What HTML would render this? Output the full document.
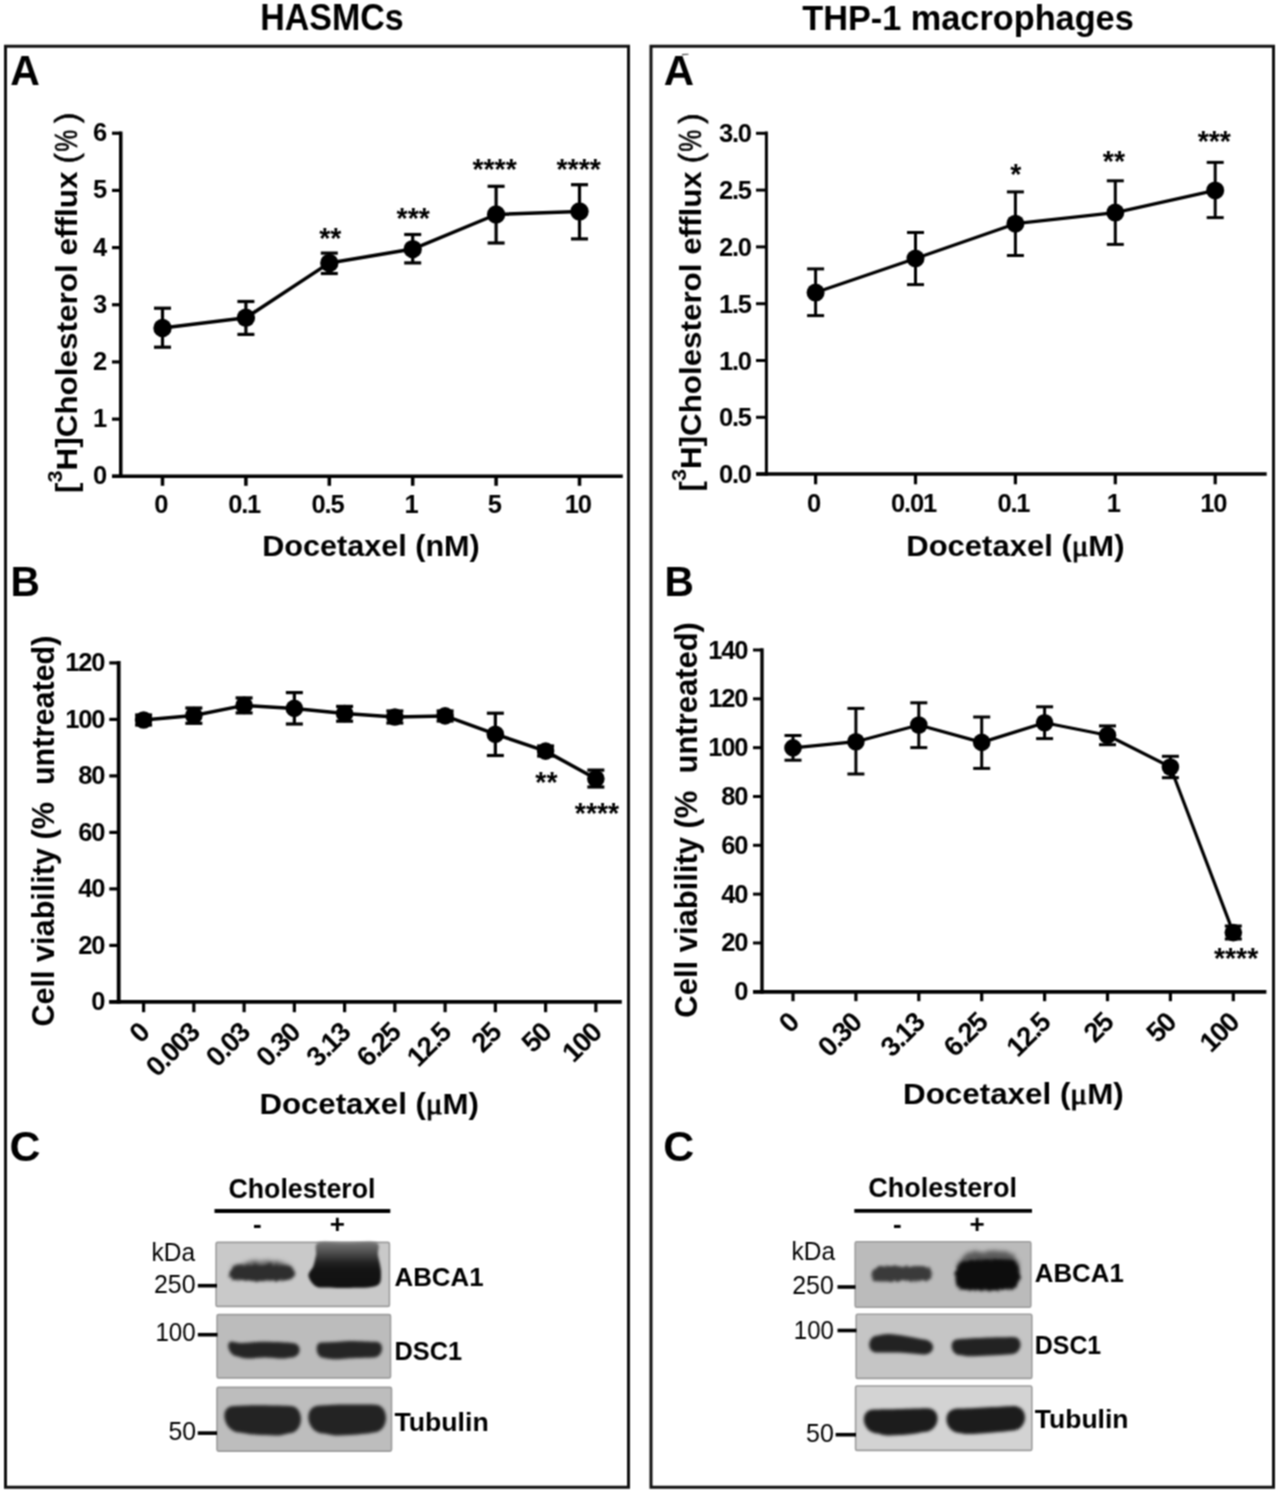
<!DOCTYPE html>
<html><head><meta charset="utf-8"><style>
html,body{margin:0;padding:0;background:#fff;}
svg{display:block;}
#w{width:1280px;height:1493px;overflow:hidden;will-change:transform;}
text{font-family:"Liberation Sans", sans-serif;font-weight:bold;fill:#000;stroke:none;}
</style></head><body><div id="w">
<svg width="1280" height="1493" viewBox="0 0 1280 1493">
<defs><filter id="bl1" color-interpolation-filters="sRGB" x="-20%" y="-50%" width="140%" height="200%"><feGaussianBlur stdDeviation="1.1"/></filter>
<filter id="bl3" color-interpolation-filters="sRGB" x="-20%" y="-50%" width="140%" height="200%"><feGaussianBlur stdDeviation="1.4"/></filter>
<filter id="bl2" color-interpolation-filters="sRGB" x="-20%" y="-50%" width="140%" height="200%"><feGaussianBlur stdDeviation="2.2"/></filter>
<filter id="fz" color-interpolation-filters="sRGB" x="-20%" y="-60%" width="140%" height="220%"><feTurbulence type="fractalNoise" baseFrequency="0.35" numOctaves="2" seed="3" result="n"/><feDisplacementMap in="SourceGraphic" in2="n" scale="4" xChannelSelector="R" yChannelSelector="G" result="d"/><feGaussianBlur in="d" stdDeviation="1.5"/></filter>
<filter id="fz2" color-interpolation-filters="sRGB" x="-20%" y="-60%" width="140%" height="220%"><feTurbulence type="fractalNoise" baseFrequency="0.3" numOctaves="2" seed="7" result="n"/><feDisplacementMap in="SourceGraphic" in2="n" scale="6" xChannelSelector="R" yChannelSelector="G" result="d"/><feGaussianBlur in="d" stdDeviation="2.0"/></filter>
<filter id="soft" color-interpolation-filters="sRGB" x="0" y="0" width="1280" height="1493" filterUnits="userSpaceOnUse"><feConvolveMatrix order="3" kernelMatrix="1 2 1 2 4 2 1 2 1" divisor="16" edgeMode="duplicate"/></filter>
<linearGradient id="smearL" gradientUnits="userSpaceOnUse" x1="0" y1="1242" x2="0" y2="1288"><stop offset="0" stop-color="#787878"/><stop offset="0.22" stop-color="#505050"/><stop offset="0.45" stop-color="#222"/><stop offset="0.6" stop-color="#141414"/><stop offset="1" stop-color="#111"/></linearGradient></defs>
<g filter="url(#soft)">
<rect width="1280" height="1493" fill="#fff"/>
<g stroke="#000" fill="none">
<text x="332.00" y="29.50" font-size="36.5" text-anchor="middle" textLength="143.5" lengthAdjust="spacingAndGlyphs" >HASMCs</text>
<text x="968.00" y="29.50" font-size="35.5" text-anchor="middle" textLength="331.5" lengthAdjust="spacingAndGlyphs" >THP-1 macrophages</text>
<rect x="5.5" y="46.25" width="623" height="1441" fill="none" stroke="#111" stroke-width="3"/>
<rect x="651" y="46.25" width="622.5" height="1441" fill="none" stroke="#111" stroke-width="3"/>
<text x="10.30" y="85.00" font-size="43" text-anchor="start" textLength="29.6" lengthAdjust="spacingAndGlyphs" >A</text>
<text x="663.80" y="84.70" font-size="43" text-anchor="start" textLength="30.3" lengthAdjust="spacingAndGlyphs" >A</text>
<text x="10.60" y="596.20" font-size="43" text-anchor="start" textLength="29.4" lengthAdjust="spacingAndGlyphs" >B</text>
<text x="664.40" y="596.00" font-size="43" text-anchor="start" textLength="29.4" lengthAdjust="spacingAndGlyphs" >B</text>
<text x="9.60" y="1161.20" font-size="43" text-anchor="start" textLength="31.0" lengthAdjust="spacingAndGlyphs" >C</text>
<text x="663.30" y="1161.40" font-size="43" text-anchor="start" textLength="31.0" lengthAdjust="spacingAndGlyphs" >C</text>
<line x1="120.75" y1="131.50" x2="120.75" y2="478.05" stroke-width="3.5"/>
<line x1="112.00" y1="476.30" x2="622.80" y2="476.30" stroke-width="3.5"/>
<line x1="112.00" y1="476.30" x2="120.75" y2="476.30" stroke-width="3.2"/>
<text x="106.00" y="484.30" font-size="25.5" text-anchor="end" style="letter-spacing:-1.2px" >0</text>
<line x1="112.00" y1="419.12" x2="120.75" y2="419.12" stroke-width="3.2"/>
<text x="106.00" y="427.12" font-size="25.5" text-anchor="end" style="letter-spacing:-1.2px" >1</text>
<line x1="112.00" y1="361.94" x2="120.75" y2="361.94" stroke-width="3.2"/>
<text x="106.00" y="369.94" font-size="25.5" text-anchor="end" style="letter-spacing:-1.2px" >2</text>
<line x1="112.00" y1="304.76" x2="120.75" y2="304.76" stroke-width="3.2"/>
<text x="106.00" y="312.76" font-size="25.5" text-anchor="end" style="letter-spacing:-1.2px" >3</text>
<line x1="112.00" y1="247.58" x2="120.75" y2="247.58" stroke-width="3.2"/>
<text x="106.00" y="255.58" font-size="25.5" text-anchor="end" style="letter-spacing:-1.2px" >4</text>
<line x1="112.00" y1="190.40" x2="120.75" y2="190.40" stroke-width="3.2"/>
<text x="106.00" y="198.40" font-size="25.5" text-anchor="end" style="letter-spacing:-1.2px" >5</text>
<line x1="112.00" y1="133.22" x2="120.75" y2="133.22" stroke-width="3.2"/>
<text x="106.00" y="141.22" font-size="25.5" text-anchor="end" style="letter-spacing:-1.2px" >6</text>
<line x1="162.50" y1="476.30" x2="162.50" y2="485.80" stroke-width="3.5"/>
<line x1="245.90" y1="476.30" x2="245.90" y2="485.80" stroke-width="3.5"/>
<line x1="329.30" y1="476.30" x2="329.30" y2="485.80" stroke-width="3.5"/>
<line x1="412.70" y1="476.30" x2="412.70" y2="485.80" stroke-width="3.5"/>
<line x1="496.10" y1="476.30" x2="496.10" y2="485.80" stroke-width="3.5"/>
<line x1="579.50" y1="476.30" x2="579.50" y2="485.80" stroke-width="3.5"/>
<text x="160.70" y="513.00" font-size="25.5" text-anchor="middle" style="letter-spacing:-1.2px" >0</text>
<text x="244.10" y="513.00" font-size="25.5" text-anchor="middle" style="letter-spacing:-1.2px" >0.1</text>
<text x="327.50" y="513.00" font-size="25.5" text-anchor="middle" style="letter-spacing:-1.2px" >0.5</text>
<text x="410.90" y="513.00" font-size="25.5" text-anchor="middle" style="letter-spacing:-1.2px" >1</text>
<text x="494.30" y="513.00" font-size="25.5" text-anchor="middle" style="letter-spacing:-1.2px" >5</text>
<text x="577.70" y="513.00" font-size="25.5" text-anchor="middle" style="letter-spacing:-1.2px" >10</text>
<text x="371.00" y="555.70" font-size="30" text-anchor="middle" textLength="217.5" lengthAdjust="spacingAndGlyphs" >Docetaxel (nM)</text>
<text transform="translate(77.30,493.00) rotate(-90)" font-size="30" text-anchor="start" textLength="321.5" lengthAdjust="spacingAndGlyphs">[<tspan font-size="20.5" dy="-15">3</tspan><tspan dy="15">H]Cholesterol efflux</tspan></text>
<text transform="translate(77.30,163.50) rotate(-90)" font-size="31" text-anchor="start" style="font-weight:normal;stroke:#000;stroke-width:0.6">(</text>
<text transform="translate(77.30,151.80) rotate(-90)" font-size="32" text-anchor="start" style="font-weight:normal;stroke:#000;stroke-width:0.6" textLength="22" lengthAdjust="spacingAndGlyphs">%</text>
<text transform="translate(77.30,123.10) rotate(-90)" font-size="31" text-anchor="start" style="font-weight:normal;stroke:#000;stroke-width:0.6">)</text>
<polyline points="162.50,327.90 245.90,317.70 329.30,262.90 412.70,249.10 496.10,214.50 579.50,211.50" fill="none" stroke-width="3.5" stroke-linejoin="round"/>
<line x1="162.50" y1="308.20" x2="162.50" y2="347.20" stroke-width="3.2"/>
<line x1="154.00" y1="308.20" x2="171.00" y2="308.20" stroke-width="3.2"/>
<line x1="154.00" y1="347.20" x2="171.00" y2="347.20" stroke-width="3.2"/>
<circle cx="162.50" cy="327.90" r="9.2" fill="#000" stroke="none"/>
<line x1="245.90" y1="301.50" x2="245.90" y2="334.40" stroke-width="3.2"/>
<line x1="237.40" y1="301.50" x2="254.40" y2="301.50" stroke-width="3.2"/>
<line x1="237.40" y1="334.40" x2="254.40" y2="334.40" stroke-width="3.2"/>
<circle cx="245.90" cy="317.70" r="9.2" fill="#000" stroke="none"/>
<line x1="329.30" y1="253.10" x2="329.30" y2="273.50" stroke-width="3.2"/>
<line x1="320.80" y1="253.10" x2="337.80" y2="253.10" stroke-width="3.2"/>
<line x1="320.80" y1="273.50" x2="337.80" y2="273.50" stroke-width="3.2"/>
<circle cx="329.30" cy="262.90" r="9.2" fill="#000" stroke="none"/>
<line x1="412.70" y1="234.50" x2="412.70" y2="262.90" stroke-width="3.2"/>
<line x1="404.20" y1="234.50" x2="421.20" y2="234.50" stroke-width="3.2"/>
<line x1="404.20" y1="262.90" x2="421.20" y2="262.90" stroke-width="3.2"/>
<circle cx="412.70" cy="249.10" r="9.2" fill="#000" stroke="none"/>
<line x1="496.10" y1="186.30" x2="496.10" y2="243.00" stroke-width="3.2"/>
<line x1="487.60" y1="186.30" x2="504.60" y2="186.30" stroke-width="3.2"/>
<line x1="487.60" y1="243.00" x2="504.60" y2="243.00" stroke-width="3.2"/>
<circle cx="496.10" cy="214.50" r="9.2" fill="#000" stroke="none"/>
<line x1="579.50" y1="184.70" x2="579.50" y2="238.90" stroke-width="3.2"/>
<line x1="571.00" y1="184.70" x2="588.00" y2="184.70" stroke-width="3.2"/>
<line x1="571.00" y1="238.90" x2="588.00" y2="238.90" stroke-width="3.2"/>
<circle cx="579.50" cy="211.50" r="9.2" fill="#000" stroke="none"/>
<text transform="translate(330.30,248.00) scale(0.95,1)" font-size="30" text-anchor="middle" >**</text>
<text transform="translate(413.20,228.10) scale(0.95,1)" font-size="30" text-anchor="middle" >***</text>
<text transform="translate(494.60,179.00) scale(0.95,1)" font-size="30" text-anchor="middle" >****</text>
<text transform="translate(578.70,178.50) scale(0.95,1)" font-size="30" text-anchor="middle" >****</text>
<line x1="766.40" y1="131.60" x2="766.40" y2="475.85" stroke-width="3.0"/>
<line x1="756.20" y1="474.10" x2="1266.70" y2="474.10" stroke-width="3.5"/>
<line x1="756.00" y1="474.10" x2="766.40" y2="474.10" stroke-width="3.0"/>
<text x="750.80" y="483.10" font-size="25.5" text-anchor="end" style="letter-spacing:-1.2px" >0.0</text>
<line x1="756.00" y1="417.30" x2="766.40" y2="417.30" stroke-width="3.0"/>
<text x="750.80" y="426.30" font-size="25.5" text-anchor="end" style="letter-spacing:-1.2px" >0.5</text>
<line x1="756.00" y1="360.50" x2="766.40" y2="360.50" stroke-width="3.0"/>
<text x="750.80" y="369.50" font-size="25.5" text-anchor="end" style="letter-spacing:-1.2px" >1.0</text>
<line x1="756.00" y1="303.70" x2="766.40" y2="303.70" stroke-width="3.0"/>
<text x="750.80" y="312.70" font-size="25.5" text-anchor="end" style="letter-spacing:-1.2px" >1.5</text>
<line x1="756.00" y1="246.90" x2="766.40" y2="246.90" stroke-width="3.0"/>
<text x="750.80" y="255.90" font-size="25.5" text-anchor="end" style="letter-spacing:-1.2px" >2.0</text>
<line x1="756.00" y1="190.10" x2="766.40" y2="190.10" stroke-width="3.0"/>
<text x="750.80" y="199.10" font-size="25.5" text-anchor="end" style="letter-spacing:-1.2px" >2.5</text>
<line x1="756.00" y1="133.30" x2="766.40" y2="133.30" stroke-width="3.0"/>
<text x="750.80" y="142.30" font-size="25.5" text-anchor="end" style="letter-spacing:-1.2px" >3.0</text>
<line x1="815.60" y1="474.10" x2="815.60" y2="484.30" stroke-width="3.2"/>
<line x1="915.50" y1="474.10" x2="915.50" y2="484.30" stroke-width="3.2"/>
<line x1="1015.40" y1="474.10" x2="1015.40" y2="484.30" stroke-width="3.2"/>
<line x1="1115.30" y1="474.10" x2="1115.30" y2="484.30" stroke-width="3.2"/>
<line x1="1215.20" y1="474.10" x2="1215.20" y2="484.30" stroke-width="3.2"/>
<text x="813.60" y="511.50" font-size="25.5" text-anchor="middle" style="letter-spacing:-1.2px" >0</text>
<text x="913.50" y="511.50" font-size="25.5" text-anchor="middle" style="letter-spacing:-1.2px" >0.01</text>
<text x="1013.40" y="511.50" font-size="25.5" text-anchor="middle" style="letter-spacing:-1.2px" >0.1</text>
<text x="1113.30" y="511.50" font-size="25.5" text-anchor="middle" style="letter-spacing:-1.2px" >1</text>
<text x="1213.20" y="511.50" font-size="25.5" text-anchor="middle" style="letter-spacing:-1.2px" >10</text>
<text x="1015.40" y="555.70" font-size="30" text-anchor="middle" textLength="218.2" lengthAdjust="spacingAndGlyphs" >Docetaxel (<tspan style="font-family:&quot;Liberation Serif&quot;,serif;font-weight:normal;stroke:#000;stroke-width:0.9">μ</tspan>M)</text>
<text transform="translate(700.90,491.40) rotate(-90)" font-size="30" text-anchor="start" textLength="320.2" lengthAdjust="spacingAndGlyphs">[<tspan font-size="20.5" dy="-15">3</tspan><tspan dy="15">H]Cholesterol efflux</tspan></text>
<text transform="translate(700.90,163.20) rotate(-90)" font-size="31" text-anchor="start" style="font-weight:normal;stroke:#000;stroke-width:0.6">(</text>
<text transform="translate(700.90,151.80) rotate(-90)" font-size="32" text-anchor="start" style="font-weight:normal;stroke:#000;stroke-width:0.6" textLength="22" lengthAdjust="spacingAndGlyphs">%</text>
<text transform="translate(700.90,123.80) rotate(-90)" font-size="31" text-anchor="start" style="font-weight:normal;stroke:#000;stroke-width:0.6">)</text>
<polyline points="815.60,292.60 915.50,258.50 1015.40,223.70 1115.30,212.60 1215.20,190.40" fill="none" stroke-width="3.2" stroke-linejoin="round"/>
<line x1="815.60" y1="268.90" x2="815.60" y2="315.60" stroke-width="3.0"/>
<line x1="807.10" y1="268.90" x2="824.10" y2="268.90" stroke-width="3.0"/>
<line x1="807.10" y1="315.60" x2="824.10" y2="315.60" stroke-width="3.0"/>
<circle cx="815.60" cy="292.60" r="9.0" fill="#000" stroke="none"/>
<line x1="915.50" y1="232.50" x2="915.50" y2="284.60" stroke-width="3.0"/>
<line x1="907.00" y1="232.50" x2="924.00" y2="232.50" stroke-width="3.0"/>
<line x1="907.00" y1="284.60" x2="924.00" y2="284.60" stroke-width="3.0"/>
<circle cx="915.50" cy="258.50" r="9.0" fill="#000" stroke="none"/>
<line x1="1015.40" y1="191.90" x2="1015.40" y2="255.50" stroke-width="3.0"/>
<line x1="1006.90" y1="191.90" x2="1023.90" y2="191.90" stroke-width="3.0"/>
<line x1="1006.90" y1="255.50" x2="1023.90" y2="255.50" stroke-width="3.0"/>
<circle cx="1015.40" cy="223.70" r="9.0" fill="#000" stroke="none"/>
<line x1="1115.30" y1="180.80" x2="1115.30" y2="244.40" stroke-width="3.0"/>
<line x1="1106.80" y1="180.80" x2="1123.80" y2="180.80" stroke-width="3.0"/>
<line x1="1106.80" y1="244.40" x2="1123.80" y2="244.40" stroke-width="3.0"/>
<circle cx="1115.30" cy="212.60" r="9.0" fill="#000" stroke="none"/>
<line x1="1215.20" y1="162.40" x2="1215.20" y2="217.60" stroke-width="3.0"/>
<line x1="1206.70" y1="162.40" x2="1223.70" y2="162.40" stroke-width="3.0"/>
<line x1="1206.70" y1="217.60" x2="1223.70" y2="217.60" stroke-width="3.0"/>
<circle cx="1215.20" cy="190.40" r="9.0" fill="#000" stroke="none"/>
<text transform="translate(1015.90,183.80) scale(0.95,1)" font-size="30" text-anchor="middle" >*</text>
<text transform="translate(1113.90,170.50) scale(0.95,1)" font-size="30" text-anchor="middle" >**</text>
<text transform="translate(1214.30,150.80) scale(0.95,1)" font-size="30" text-anchor="middle" >***</text>
<line x1="118.70" y1="661.00" x2="118.70" y2="1003.80" stroke-width="3.8"/>
<line x1="109.20" y1="1001.90" x2="621.80" y2="1001.90" stroke-width="3.8"/>
<line x1="109.30" y1="1001.90" x2="118.70" y2="1001.90" stroke-width="3.2"/>
<text x="104.20" y="1010.40" font-size="25.5" text-anchor="end" style="letter-spacing:-1.2px" >0</text>
<line x1="109.30" y1="945.40" x2="118.70" y2="945.40" stroke-width="3.2"/>
<text x="104.20" y="953.90" font-size="25.5" text-anchor="end" style="letter-spacing:-1.2px" >20</text>
<line x1="109.30" y1="888.90" x2="118.70" y2="888.90" stroke-width="3.2"/>
<text x="104.20" y="897.40" font-size="25.5" text-anchor="end" style="letter-spacing:-1.2px" >40</text>
<line x1="109.30" y1="832.40" x2="118.70" y2="832.40" stroke-width="3.2"/>
<text x="104.20" y="840.90" font-size="25.5" text-anchor="end" style="letter-spacing:-1.2px" >60</text>
<line x1="109.30" y1="775.90" x2="118.70" y2="775.90" stroke-width="3.2"/>
<text x="104.20" y="784.40" font-size="25.5" text-anchor="end" style="letter-spacing:-1.2px" >80</text>
<line x1="109.30" y1="719.40" x2="118.70" y2="719.40" stroke-width="3.2"/>
<text x="104.20" y="727.90" font-size="25.5" text-anchor="end" style="letter-spacing:-1.2px" >100</text>
<line x1="109.30" y1="662.90" x2="118.70" y2="662.90" stroke-width="3.2"/>
<text x="104.20" y="671.40" font-size="25.5" text-anchor="end" style="letter-spacing:-1.2px" >120</text>
<line x1="143.60" y1="1001.90" x2="143.60" y2="1012.20" stroke-width="3.2"/>
<line x1="193.85" y1="1001.90" x2="193.85" y2="1012.20" stroke-width="3.2"/>
<line x1="244.10" y1="1001.90" x2="244.10" y2="1012.20" stroke-width="3.2"/>
<line x1="294.35" y1="1001.90" x2="294.35" y2="1012.20" stroke-width="3.2"/>
<line x1="344.60" y1="1001.90" x2="344.60" y2="1012.20" stroke-width="3.2"/>
<line x1="394.85" y1="1001.90" x2="394.85" y2="1012.20" stroke-width="3.2"/>
<line x1="445.10" y1="1001.90" x2="445.10" y2="1012.20" stroke-width="3.2"/>
<line x1="495.35" y1="1001.90" x2="495.35" y2="1012.20" stroke-width="3.2"/>
<line x1="545.60" y1="1001.90" x2="545.60" y2="1012.20" stroke-width="3.2"/>
<line x1="595.85" y1="1001.90" x2="595.85" y2="1012.20" stroke-width="3.2"/>
<text transform="translate(150.60,1034.40) rotate(-45)" font-size="27.6" text-anchor="end" style="letter-spacing:-1.5px">0</text>
<text transform="translate(200.85,1034.40) rotate(-45)" font-size="27.6" text-anchor="end" style="letter-spacing:-1.5px">0.003</text>
<text transform="translate(251.10,1034.40) rotate(-45)" font-size="27.6" text-anchor="end" style="letter-spacing:-1.5px">0.03</text>
<text transform="translate(301.35,1034.40) rotate(-45)" font-size="27.6" text-anchor="end" style="letter-spacing:-1.5px">0.30</text>
<text transform="translate(351.60,1034.40) rotate(-45)" font-size="27.6" text-anchor="end" style="letter-spacing:-1.5px">3.13</text>
<text transform="translate(401.85,1034.40) rotate(-45)" font-size="27.6" text-anchor="end" style="letter-spacing:-1.5px">6.25</text>
<text transform="translate(452.10,1034.40) rotate(-45)" font-size="27.6" text-anchor="end" style="letter-spacing:-1.5px">12.5</text>
<text transform="translate(502.35,1034.40) rotate(-45)" font-size="27.6" text-anchor="end" style="letter-spacing:-1.5px">25</text>
<text transform="translate(552.60,1034.40) rotate(-45)" font-size="27.6" text-anchor="end" style="letter-spacing:-1.5px">50</text>
<text transform="translate(602.85,1034.40) rotate(-45)" font-size="27.6" text-anchor="end" style="letter-spacing:-1.5px">100</text>
<text x="369.20" y="1113.50" font-size="30" text-anchor="middle" textLength="219.6" lengthAdjust="spacingAndGlyphs" >Docetaxel (<tspan style="font-family:&quot;Liberation Serif&quot;,serif;font-weight:normal;stroke:#000;stroke-width:0.9">μ</tspan>M)</text>
<text transform="translate(54.20,831.00) rotate(-90)" font-size="31" text-anchor="middle" textLength="391.0" lengthAdjust="spacingAndGlyphs">Cell viability (%&#160;&#160;untreated)</text>
<polyline points="143.60,720.00 193.85,715.50 244.10,705.40 294.35,708.40 344.60,713.50 394.85,717.00 445.10,715.90 495.35,734.20 545.60,751.10 595.85,778.70" fill="none" stroke-width="3.5" stroke-linejoin="round"/>
<line x1="143.60" y1="715.00" x2="143.60" y2="725.00" stroke-width="3.2"/>
<line x1="135.10" y1="715.00" x2="152.10" y2="715.00" stroke-width="3.2"/>
<line x1="135.10" y1="725.00" x2="152.10" y2="725.00" stroke-width="3.2"/>
<circle cx="143.60" cy="720.00" r="8.8" fill="#000" stroke="none"/>
<line x1="193.85" y1="708.00" x2="193.85" y2="723.30" stroke-width="3.2"/>
<line x1="185.35" y1="708.00" x2="202.35" y2="708.00" stroke-width="3.2"/>
<line x1="185.35" y1="723.30" x2="202.35" y2="723.30" stroke-width="3.2"/>
<circle cx="193.85" cy="715.50" r="8.8" fill="#000" stroke="none"/>
<line x1="244.10" y1="697.90" x2="244.10" y2="712.90" stroke-width="3.2"/>
<line x1="235.60" y1="697.90" x2="252.60" y2="697.90" stroke-width="3.2"/>
<line x1="235.60" y1="712.90" x2="252.60" y2="712.90" stroke-width="3.2"/>
<circle cx="244.10" cy="705.40" r="8.8" fill="#000" stroke="none"/>
<line x1="294.35" y1="692.60" x2="294.35" y2="724.00" stroke-width="3.2"/>
<line x1="285.85" y1="692.60" x2="302.85" y2="692.60" stroke-width="3.2"/>
<line x1="285.85" y1="724.00" x2="302.85" y2="724.00" stroke-width="3.2"/>
<circle cx="294.35" cy="708.40" r="8.8" fill="#000" stroke="none"/>
<line x1="344.60" y1="706.40" x2="344.60" y2="721.20" stroke-width="3.2"/>
<line x1="336.10" y1="706.40" x2="353.10" y2="706.40" stroke-width="3.2"/>
<line x1="336.10" y1="721.20" x2="353.10" y2="721.20" stroke-width="3.2"/>
<circle cx="344.60" cy="713.50" r="8.8" fill="#000" stroke="none"/>
<line x1="394.85" y1="711.00" x2="394.85" y2="723.00" stroke-width="3.2"/>
<line x1="386.35" y1="711.00" x2="403.35" y2="711.00" stroke-width="3.2"/>
<line x1="386.35" y1="723.00" x2="403.35" y2="723.00" stroke-width="3.2"/>
<circle cx="394.85" cy="717.00" r="8.8" fill="#000" stroke="none"/>
<line x1="445.10" y1="711.00" x2="445.10" y2="721.00" stroke-width="3.2"/>
<line x1="436.60" y1="711.00" x2="453.60" y2="711.00" stroke-width="3.2"/>
<line x1="436.60" y1="721.00" x2="453.60" y2="721.00" stroke-width="3.2"/>
<circle cx="445.10" cy="715.90" r="8.8" fill="#000" stroke="none"/>
<line x1="495.35" y1="713.20" x2="495.35" y2="755.50" stroke-width="3.2"/>
<line x1="486.85" y1="713.20" x2="503.85" y2="713.20" stroke-width="3.2"/>
<line x1="486.85" y1="755.50" x2="503.85" y2="755.50" stroke-width="3.2"/>
<circle cx="495.35" cy="734.20" r="8.8" fill="#000" stroke="none"/>
<line x1="545.60" y1="746.00" x2="545.60" y2="756.00" stroke-width="3.2"/>
<line x1="537.10" y1="746.00" x2="554.10" y2="746.00" stroke-width="3.2"/>
<line x1="537.10" y1="756.00" x2="554.10" y2="756.00" stroke-width="3.2"/>
<circle cx="545.60" cy="751.10" r="8.8" fill="#000" stroke="none"/>
<line x1="595.85" y1="770.10" x2="595.85" y2="787.00" stroke-width="3.2"/>
<line x1="587.35" y1="770.10" x2="604.35" y2="770.10" stroke-width="3.2"/>
<line x1="587.35" y1="787.00" x2="604.35" y2="787.00" stroke-width="3.2"/>
<circle cx="595.85" cy="778.70" r="8.8" fill="#000" stroke="none"/>
<text transform="translate(546.40,791.50) scale(0.95,1)" font-size="30" text-anchor="middle" >**</text>
<text transform="translate(597.00,822.50) scale(0.95,1)" font-size="30" text-anchor="middle" >****</text>
<line x1="762.00" y1="648.30" x2="762.00" y2="993.70" stroke-width="3.4"/>
<line x1="753.10" y1="991.80" x2="1266.40" y2="991.80" stroke-width="3.8"/>
<line x1="753.00" y1="991.80" x2="762.00" y2="991.80" stroke-width="3.0"/>
<text x="747.30" y="1000.30" font-size="25.5" text-anchor="end" style="letter-spacing:-1.2px" >0</text>
<line x1="753.00" y1="942.97" x2="762.00" y2="942.97" stroke-width="3.0"/>
<text x="747.30" y="951.47" font-size="25.5" text-anchor="end" style="letter-spacing:-1.2px" >20</text>
<line x1="753.00" y1="894.14" x2="762.00" y2="894.14" stroke-width="3.0"/>
<text x="747.30" y="902.64" font-size="25.5" text-anchor="end" style="letter-spacing:-1.2px" >40</text>
<line x1="753.00" y1="845.31" x2="762.00" y2="845.31" stroke-width="3.0"/>
<text x="747.30" y="853.81" font-size="25.5" text-anchor="end" style="letter-spacing:-1.2px" >60</text>
<line x1="753.00" y1="796.49" x2="762.00" y2="796.49" stroke-width="3.0"/>
<text x="747.30" y="804.99" font-size="25.5" text-anchor="end" style="letter-spacing:-1.2px" >80</text>
<line x1="753.00" y1="747.66" x2="762.00" y2="747.66" stroke-width="3.0"/>
<text x="747.30" y="756.16" font-size="25.5" text-anchor="end" style="letter-spacing:-1.2px" >100</text>
<line x1="753.00" y1="698.83" x2="762.00" y2="698.83" stroke-width="3.0"/>
<text x="747.30" y="707.33" font-size="25.5" text-anchor="end" style="letter-spacing:-1.2px" >120</text>
<line x1="753.00" y1="650.00" x2="762.00" y2="650.00" stroke-width="3.0"/>
<text x="747.30" y="658.50" font-size="25.5" text-anchor="end" style="letter-spacing:-1.2px" >140</text>
<line x1="793.00" y1="991.80" x2="793.00" y2="1001.20" stroke-width="3.2"/>
<line x1="855.90" y1="991.80" x2="855.90" y2="1001.20" stroke-width="3.2"/>
<line x1="918.80" y1="991.80" x2="918.80" y2="1001.20" stroke-width="3.2"/>
<line x1="981.70" y1="991.80" x2="981.70" y2="1001.20" stroke-width="3.2"/>
<line x1="1044.60" y1="991.80" x2="1044.60" y2="1001.20" stroke-width="3.2"/>
<line x1="1107.50" y1="991.80" x2="1107.50" y2="1001.20" stroke-width="3.2"/>
<line x1="1170.40" y1="991.80" x2="1170.40" y2="1001.20" stroke-width="3.2"/>
<line x1="1233.30" y1="991.80" x2="1233.30" y2="1001.20" stroke-width="3.2"/>
<text transform="translate(800.00,1024.40) rotate(-45)" font-size="27.6" text-anchor="end" style="letter-spacing:-1.5px">0</text>
<text transform="translate(862.90,1024.40) rotate(-45)" font-size="27.6" text-anchor="end" style="letter-spacing:-1.5px">0.30</text>
<text transform="translate(925.80,1024.40) rotate(-45)" font-size="27.6" text-anchor="end" style="letter-spacing:-1.5px">3.13</text>
<text transform="translate(988.70,1024.40) rotate(-45)" font-size="27.6" text-anchor="end" style="letter-spacing:-1.5px">6.25</text>
<text transform="translate(1051.60,1024.40) rotate(-45)" font-size="27.6" text-anchor="end" style="letter-spacing:-1.5px">12.5</text>
<text transform="translate(1114.50,1024.40) rotate(-45)" font-size="27.6" text-anchor="end" style="letter-spacing:-1.5px">25</text>
<text transform="translate(1177.40,1024.40) rotate(-45)" font-size="27.6" text-anchor="end" style="letter-spacing:-1.5px">50</text>
<text transform="translate(1240.30,1024.40) rotate(-45)" font-size="27.6" text-anchor="end" style="letter-spacing:-1.5px">100</text>
<text x="1013.40" y="1103.80" font-size="30" text-anchor="middle" textLength="220.8" lengthAdjust="spacingAndGlyphs" >Docetaxel (<tspan style="font-family:&quot;Liberation Serif&quot;,serif;font-weight:normal;stroke:#000;stroke-width:0.9">μ</tspan>M)</text>
<text transform="translate(696.80,819.90) rotate(-90)" font-size="31" text-anchor="middle" textLength="395.5" lengthAdjust="spacingAndGlyphs">Cell viability (%&#160;&#160;untreated)</text>
<polyline points="793.00,747.90 855.90,741.70 918.80,725.00 981.70,742.40 1044.60,722.70 1107.50,735.20 1170.40,767.00 1233.30,932.60" fill="none" stroke-width="3.2" stroke-linejoin="round"/>
<line x1="793.00" y1="735.50" x2="793.00" y2="760.20" stroke-width="3.0"/>
<line x1="784.50" y1="735.50" x2="801.50" y2="735.50" stroke-width="3.0"/>
<line x1="784.50" y1="760.20" x2="801.50" y2="760.20" stroke-width="3.0"/>
<circle cx="793.00" cy="747.90" r="8.8" fill="#000" stroke="none"/>
<line x1="855.90" y1="708.40" x2="855.90" y2="774.00" stroke-width="3.0"/>
<line x1="847.40" y1="708.40" x2="864.40" y2="708.40" stroke-width="3.0"/>
<line x1="847.40" y1="774.00" x2="864.40" y2="774.00" stroke-width="3.0"/>
<circle cx="855.90" cy="741.70" r="8.8" fill="#000" stroke="none"/>
<line x1="918.80" y1="702.80" x2="918.80" y2="747.60" stroke-width="3.0"/>
<line x1="910.30" y1="702.80" x2="927.30" y2="702.80" stroke-width="3.0"/>
<line x1="910.30" y1="747.60" x2="927.30" y2="747.60" stroke-width="3.0"/>
<circle cx="918.80" cy="725.00" r="8.8" fill="#000" stroke="none"/>
<line x1="981.70" y1="717.00" x2="981.70" y2="768.40" stroke-width="3.0"/>
<line x1="973.20" y1="717.00" x2="990.20" y2="717.00" stroke-width="3.0"/>
<line x1="973.20" y1="768.40" x2="990.20" y2="768.40" stroke-width="3.0"/>
<circle cx="981.70" cy="742.40" r="8.8" fill="#000" stroke="none"/>
<line x1="1044.60" y1="706.80" x2="1044.60" y2="738.60" stroke-width="3.0"/>
<line x1="1036.10" y1="706.80" x2="1053.10" y2="706.80" stroke-width="3.0"/>
<line x1="1036.10" y1="738.60" x2="1053.10" y2="738.60" stroke-width="3.0"/>
<circle cx="1044.60" cy="722.70" r="8.8" fill="#000" stroke="none"/>
<line x1="1107.50" y1="725.90" x2="1107.50" y2="744.70" stroke-width="3.0"/>
<line x1="1099.00" y1="725.90" x2="1116.00" y2="725.90" stroke-width="3.0"/>
<line x1="1099.00" y1="744.70" x2="1116.00" y2="744.70" stroke-width="3.0"/>
<circle cx="1107.50" cy="735.20" r="8.8" fill="#000" stroke="none"/>
<line x1="1170.40" y1="756.30" x2="1170.40" y2="777.70" stroke-width="3.0"/>
<line x1="1161.90" y1="756.30" x2="1178.90" y2="756.30" stroke-width="3.0"/>
<line x1="1161.90" y1="777.70" x2="1178.90" y2="777.70" stroke-width="3.0"/>
<circle cx="1170.40" cy="767.00" r="8.8" fill="#000" stroke="none"/>
<line x1="1233.30" y1="926.00" x2="1233.30" y2="939.00" stroke-width="3.0"/>
<line x1="1224.80" y1="926.00" x2="1241.80" y2="926.00" stroke-width="3.0"/>
<line x1="1224.80" y1="939.00" x2="1241.80" y2="939.00" stroke-width="3.0"/>
<circle cx="1233.30" cy="932.60" r="8.8" fill="#000" stroke="none"/>
<text transform="translate(1236.10,967.70) scale(0.95,1)" font-size="30" text-anchor="middle" >****</text>
<line x1="682" y1="54.6" x2="688.5" y2="54.2" stroke="#444" stroke-width="1.1"/>
<text x="302.00" y="1198.00" font-size="27" text-anchor="middle" textLength="147.0" lengthAdjust="spacingAndGlyphs" >Cholesterol</text>
<line x1="214.50" y1="1211.00" x2="390.30" y2="1211.00" stroke-width="3.8"/>
<text x="257.30" y="1232.70" font-size="26" text-anchor="middle" >-</text>
<text x="337.30" y="1233.00" font-size="26" text-anchor="middle" >+</text>
<rect x="216.1" y="1242.4" width="173.3" height="64.0" rx="1.5" fill="#c9c9c9" stroke="#9c9c9c" stroke-width="1.6"/>
<rect x="217.1" y="1314.6" width="173.4" height="63.3" rx="1.5" fill="#bcbcbc" stroke="#9c9c9c" stroke-width="1.6"/>
<rect x="217.0" y="1387.4" width="174.5" height="63.7" rx="1.5" fill="#bdbdbd" stroke="#9c9c9c" stroke-width="1.6"/>
<path d="M231.0,1268.0 C228.5,1267.2 244.3,1262.8 250.0,1261.5 C255.7,1260.2 260.0,1260.5 265.0,1260.5 C270.0,1260.5 275.5,1260.4 280.0,1261.5 C284.5,1262.6 294.5,1266.2 292.0,1267.0 C289.5,1267.8 275.2,1265.8 265.0,1266.0 C254.8,1266.2 233.5,1268.8 231.0,1268.0Z" fill="#6a6a6a" stroke="none" filter="url(#fz2)"/>
<path d="M229.1,1273.2 C229.9,1271.3 231.5,1267.5 235.0,1266.0 C238.5,1264.5 245.0,1264.8 250.0,1264.5 C255.0,1264.2 260.0,1264.0 265.0,1264.0 C270.0,1264.0 275.7,1264.4 280.0,1264.8 C284.3,1265.2 288.6,1265.3 291.0,1266.5 C293.4,1267.7 294.5,1269.7 294.5,1271.8 C294.5,1273.9 294.2,1277.5 291.0,1279.0 C287.8,1280.5 281.0,1280.6 275.0,1281.0 C269.0,1281.4 261.7,1281.4 255.0,1281.2 C248.3,1281.0 239.2,1280.6 235.0,1280.0 C230.8,1279.4 231.0,1278.6 230.0,1277.5 C229.0,1276.4 228.3,1275.1 229.1,1273.2Z" fill="#2e2e2e" stroke="none" filter="url(#fz)"/>
<path d="M318.5,1242.6 C323.5,1240.5 336.4,1242.6 346.0,1242.6 C355.6,1242.6 370.7,1240.5 376.0,1242.6 C381.3,1244.7 377.2,1249.9 378.0,1255.0 C378.8,1260.1 381.2,1267.9 381.0,1273.0 C380.8,1278.1 381.9,1283.3 376.7,1285.8 C371.5,1288.3 357.8,1287.7 350.0,1288.0 C342.2,1288.3 335.6,1287.8 330.0,1287.5 C324.4,1287.2 319.8,1288.4 316.2,1286.5 C312.6,1284.6 309.0,1279.4 308.5,1276.0 C308.0,1272.6 312.1,1269.5 313.4,1266.0 C314.6,1262.5 315.1,1258.9 316.0,1255.0 C316.9,1251.1 313.5,1244.7 318.5,1242.6Z" fill="url(#smearL)" stroke="none" filter="url(#bl1)"/>
<path d="M232.0,1341.6 C234.7,1342.1 237.0,1342.8 240.0,1343.0 C243.0,1343.2 246.0,1342.7 250.0,1342.5 C254.0,1342.3 258.7,1341.8 264.0,1341.8 C269.3,1341.8 277.3,1342.1 282.0,1342.3 C286.7,1342.5 288.7,1342.8 292.0,1343.0 C302.8,1343.0 301.8,1357.6 291.0,1357.6 C288.2,1357.9 287.0,1358.6 282.5,1358.6 C278.0,1358.6 270.1,1357.4 264.2,1357.4 C258.3,1357.4 251.8,1358.8 247.3,1358.6 C242.8,1358.4 240.4,1357.1 237.0,1356.3 C229.4,1356.3 224.4,1341.6 232.0,1341.6Z" fill="#252525" stroke="none" filter="url(#bl3)"/>
<path d="M321.0,1342.6 C325.7,1342.4 330.4,1342.2 335.0,1342.0 C339.6,1341.8 343.6,1341.2 348.6,1341.1 C353.6,1341.0 360.4,1341.3 365.0,1341.4 C369.6,1341.5 372.3,1341.6 376.0,1341.7 C385.3,1341.7 383.3,1357.4 374.0,1357.4 C367.9,1357.6 362.2,1357.7 355.6,1358.0 C349.0,1358.3 339.9,1359.3 334.5,1359.3 C329.1,1359.3 326.8,1358.3 323.0,1357.8 C316.1,1357.8 314.1,1342.6 321.0,1342.6Z" fill="#252525" stroke="none" filter="url(#bl3)"/>
<path d="M234.0,1406.0 C237.7,1405.9 241.2,1405.7 245.0,1405.6 C248.8,1405.5 252.0,1405.3 257.0,1405.3 C262.0,1405.3 269.5,1405.4 275.0,1405.5 C280.5,1405.6 285.0,1405.8 290.0,1406.0 C305.3,1406.0 304.3,1433.2 289.0,1433.2 C285.4,1434.0 282.3,1435.2 278.3,1435.5 C274.3,1435.8 269.7,1435.2 265.0,1435.0 C260.3,1434.8 254.4,1434.6 250.2,1434.2 C246.0,1433.8 243.4,1433.1 240.0,1432.6 C223.7,1432.6 217.7,1406.0 234.0,1406.0Z" fill="#232323" stroke="none" filter="url(#bl3)"/>
<path d="M320.0,1405.6 C323.3,1405.4 326.4,1405.2 330.0,1405.0 C333.6,1404.8 336.6,1404.7 341.6,1404.6 C346.6,1404.5 354.4,1404.6 360.0,1404.6 C365.6,1404.6 370.0,1404.7 375.0,1404.7 C390.3,1404.7 389.3,1432.4 374.0,1432.4 C371.0,1432.9 369.0,1433.4 365.0,1433.8 C361.0,1434.2 355.0,1434.7 350.0,1435.0 C345.0,1435.3 339.3,1435.6 335.0,1435.4 C330.7,1435.2 327.7,1434.2 324.0,1433.6 C306.0,1433.6 302.0,1405.6 320.0,1405.6Z" fill="#232323" stroke="none" filter="url(#bl3)"/>
<text x="394.50" y="1285.70" font-size="25" text-anchor="start" textLength="89.1" lengthAdjust="spacingAndGlyphs" >ABCA1</text>
<text x="394.50" y="1360.20" font-size="25" text-anchor="start" textLength="67.5" lengthAdjust="spacingAndGlyphs" >DSC1</text>
<text x="394.50" y="1431.40" font-size="25" text-anchor="start" textLength="94.2" lengthAdjust="spacingAndGlyphs" >Tubulin</text>
<text x="151.60" y="1260.60" font-size="25" text-anchor="start" style="font-weight:normal" textLength="43.5" lengthAdjust="spacingAndGlyphs" >kDa</text>
<text x="195.60" y="1293.20" font-size="25.5" text-anchor="end" style="font-weight:normal" textLength="41.6" lengthAdjust="spacingAndGlyphs" >250</text>
<text x="195.60" y="1341.40" font-size="25.5" text-anchor="end" style="font-weight:normal" textLength="40.2" lengthAdjust="spacingAndGlyphs" >100</text>
<text x="196.00" y="1440.40" font-size="25.5" text-anchor="end" style="font-weight:normal" textLength="27.6" lengthAdjust="spacingAndGlyphs" >50</text>
<line x1="197.80" y1="1285.70" x2="217.00" y2="1285.70" stroke-width="3.6"/>
<line x1="197.80" y1="1334.70" x2="217.50" y2="1334.70" stroke-width="3.6"/>
<line x1="197.70" y1="1433.10" x2="217.00" y2="1433.10" stroke-width="3.6"/>
<text x="942.60" y="1197.20" font-size="27" text-anchor="middle" textLength="148.6" lengthAdjust="spacingAndGlyphs" >Cholesterol</text>
<line x1="854.30" y1="1210.90" x2="1032.00" y2="1210.90" stroke-width="3.8"/>
<text x="897.40" y="1232.70" font-size="26" text-anchor="middle" >-</text>
<text x="977.20" y="1233.00" font-size="26" text-anchor="middle" >+</text>
<rect x="855.2" y="1241.8" width="175.6" height="65.5" rx="1.5" fill="#bbbbbb" stroke="#9c9c9c" stroke-width="1.6"/>
<rect x="856.2" y="1314.3" width="175.6" height="64.1" rx="1.5" fill="#c5c5c5" stroke="#9c9c9c" stroke-width="1.6"/>
<rect x="855.6" y="1386.0" width="176.2" height="64.4" rx="1.5" fill="#d3d3d3" stroke="#9c9c9c" stroke-width="1.6"/>
<path d="M871.5,1274.0 C871.8,1271.8 872.9,1268.8 876.0,1267.5 C879.1,1266.2 885.2,1266.2 890.0,1266.0 C894.8,1265.8 900.0,1266.5 905.0,1266.5 C910.0,1266.5 916.0,1266.0 920.0,1266.3 C924.0,1266.5 927.0,1266.7 929.0,1268.0 C931.0,1269.3 931.8,1272.0 931.8,1274.0 C931.8,1276.0 931.8,1278.8 929.0,1280.0 C926.2,1281.2 919.8,1281.3 915.0,1281.5 C910.2,1281.7 905.0,1281.0 900.0,1281.0 C895.0,1281.0 889.3,1281.6 885.0,1281.5 C880.7,1281.4 876.2,1281.8 874.0,1280.5 C871.8,1279.2 871.2,1276.2 871.5,1274.0Z" fill="#3a3a3a" stroke="none" filter="url(#fz)"/>
<path d="M958.0,1268.0 C954.8,1266.3 961.5,1256.8 966.0,1254.0 C970.5,1251.2 978.5,1251.8 985.0,1251.5 C991.5,1251.2 1000.0,1251.2 1005.0,1252.0 C1010.0,1252.8 1013.0,1253.3 1015.0,1256.0 C1017.0,1258.7 1022.0,1266.7 1017.0,1268.0 C1012.0,1269.3 994.8,1264.0 985.0,1264.0 C975.2,1264.0 961.2,1269.7 958.0,1268.0Z" fill="#5a5a5a" stroke="none" filter="url(#fz2)"/>
<path d="M955.2,1276.0 C955.5,1273.2 956.0,1268.5 957.5,1266.0 C959.0,1263.5 959.1,1262.1 964.0,1261.0 C968.9,1259.9 979.7,1259.8 987.0,1259.5 C994.3,1259.2 1003.2,1259.1 1008.0,1259.5 C1012.8,1259.9 1013.6,1260.2 1015.5,1262.0 C1017.4,1263.8 1018.8,1267.0 1019.5,1270.0 C1020.2,1273.0 1020.2,1277.0 1019.5,1280.0 C1018.8,1283.0 1018.2,1286.3 1015.0,1288.0 C1011.8,1289.7 1005.0,1289.8 1000.0,1290.2 C995.0,1290.6 990.3,1290.5 985.0,1290.5 C979.7,1290.5 972.3,1290.6 968.0,1290.2 C963.7,1289.8 961.0,1289.2 959.0,1288.0 C957.0,1286.8 956.4,1285.0 955.8,1283.0 C955.2,1281.0 954.9,1278.8 955.2,1276.0Z" fill="#0d0d0d" stroke="none" filter="url(#fz)"/>
<path d="M878.0,1335.5 C881.5,1335.0 884.1,1333.9 888.6,1334.0 C893.1,1334.1 899.4,1335.1 905.0,1336.0 C910.6,1336.9 916.3,1338.1 922.0,1339.2 C936.1,1339.2 937.1,1354.6 923.0,1354.6 C919.3,1354.3 916.0,1353.9 912.0,1353.6 C908.0,1353.3 904.8,1352.8 899.0,1352.6 C893.2,1352.4 884.3,1352.6 877.0,1352.6 C866.1,1352.6 867.1,1335.5 878.0,1335.5Z" fill="#222" stroke="none" filter="url(#bl3)"/>
<path d="M958.0,1339.2 C961.3,1339.0 963.7,1338.7 968.0,1338.5 C972.3,1338.3 978.3,1338.0 983.6,1337.8 C988.9,1337.6 995.1,1337.4 1000.0,1337.3 C1004.9,1337.2 1008.7,1337.1 1013.0,1337.0 C1024.3,1337.0 1022.3,1354.2 1011.0,1354.2 C1004.0,1354.6 997.0,1355.2 990.0,1355.5 C983.0,1355.8 973.7,1356.3 968.7,1356.2 C963.7,1356.1 962.9,1355.4 960.0,1355.0 C950.3,1355.0 948.3,1339.2 958.0,1339.2Z" fill="#222" stroke="none" filter="url(#bl3)"/>
<path d="M874.0,1409.6 C877.7,1409.5 880.3,1409.3 885.0,1409.2 C889.7,1409.1 896.7,1409.0 902.0,1408.9 C907.3,1408.8 912.8,1408.6 917.0,1408.5 C921.2,1408.4 923.7,1408.4 927.0,1408.3 C943.0,1408.3 940.0,1432.0 924.0,1432.0 C919.3,1432.7 916.1,1433.6 910.0,1434.2 C903.9,1434.8 892.4,1435.5 887.1,1435.4 C881.8,1435.3 881.0,1434.1 878.0,1433.5 C862.1,1433.5 858.1,1409.6 874.0,1409.6Z" fill="#1c1c1c" stroke="none" filter="url(#bl3)"/>
<path d="M958.0,1408.6 C961.0,1408.5 962.7,1408.4 967.0,1408.2 C971.3,1408.0 978.1,1407.7 983.6,1407.4 C989.1,1407.2 995.1,1406.9 1000.0,1406.7 C1004.9,1406.5 1008.7,1406.3 1013.0,1406.1 C1030.3,1406.1 1028.3,1430.8 1011.0,1430.8 C1005.0,1431.4 1000.0,1432.0 993.0,1432.5 C986.0,1433.0 974.0,1434.0 968.7,1434.1 C963.4,1434.2 963.6,1433.5 961.0,1433.2 C943.7,1433.2 940.7,1408.6 958.0,1408.6Z" fill="#1c1c1c" stroke="none" filter="url(#bl3)"/>
<text x="1034.80" y="1282.30" font-size="25" text-anchor="start" textLength="89.0" lengthAdjust="spacingAndGlyphs" >ABCA1</text>
<text x="1034.80" y="1353.80" font-size="25" text-anchor="start" textLength="66.4" lengthAdjust="spacingAndGlyphs" >DSC1</text>
<text x="1034.80" y="1427.70" font-size="25" text-anchor="start" textLength="93.7" lengthAdjust="spacingAndGlyphs" >Tubulin</text>
<text x="791.60" y="1260.30" font-size="25" text-anchor="start" style="font-weight:normal" textLength="43.5" lengthAdjust="spacingAndGlyphs" >kDa</text>
<text x="833.80" y="1294.30" font-size="25.5" text-anchor="end" style="font-weight:normal" textLength="41.6" lengthAdjust="spacingAndGlyphs" >250</text>
<text x="833.80" y="1339.20" font-size="25.5" text-anchor="end" style="font-weight:normal" textLength="40.0" lengthAdjust="spacingAndGlyphs" >100</text>
<text x="833.90" y="1441.80" font-size="25.5" text-anchor="end" style="font-weight:normal" textLength="27.8" lengthAdjust="spacingAndGlyphs" >50</text>
<line x1="837.50" y1="1287.00" x2="855.50" y2="1287.00" stroke-width="3.6"/>
<line x1="837.50" y1="1330.50" x2="856.50" y2="1330.50" stroke-width="3.6"/>
<line x1="835.60" y1="1434.70" x2="856.00" y2="1434.70" stroke-width="3.6"/>
</g>
</g>
</svg>
</div></body></html>
